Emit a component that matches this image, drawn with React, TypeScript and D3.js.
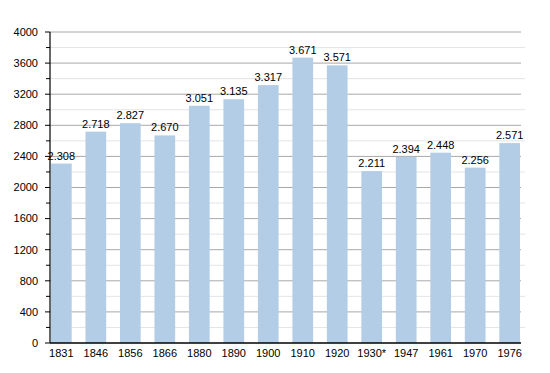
import React from "react";
import * as d3 from "d3";

const categories = ["1831", "1846", "1856", "1866", "1880", "1890", "1900", "1910", "1920", "1930*", "1947", "1961", "1970", "1976"];
const population = [2308, 2718, 2827, 2670, 3051, 3135, 3317, 3671, 3571, 2211, 2394, 2448, 2256, 2571];
const majorTicks = [0, 400, 800, 1200, 1600, 2000, 2400, 2800, 3200, 3600, 4000];
const minorTicks = [200, 600, 1000, 1400, 1800, 2200, 2600, 3000, 3400, 3800];

const W = 550, H = 373;
const left = 50, right = 521, top = 32, bottom = 343;

export default function App() {
  const y = d3.scaleLinear().domain([0, 4000]).range([bottom, top]);
  const x = d3.scaleBand<string>().domain(categories).range([left + 1, right - 1]).paddingInner(0.4).paddingOuter(0);
  const fmt = (v: number) => d3.format(",")(v).replace(/,/g, ".");
  const font = "'Liberation Sans', Arial, sans-serif";
  return (
    <svg width={W} height={H} style={{ position: "absolute", left: 0, top: 0, background: "#fff" }} fontFamily={font}>
      {minorTicks.map((t) => (
        <g key={"m" + t}>
          <line x1={left} x2={right + 4} y1={y(t)} y2={y(t)} stroke="#e4e4e4" strokeWidth={1} />
          <line x1={left - 4} x2={left} y1={y(t)} y2={y(t)} stroke="#000" strokeWidth={1} />
        </g>
      ))}
      {majorTicks.map((t) => (
        <g key={"M" + t}>
          {t > 0 && <line x1={left} x2={right} y1={y(t)} y2={y(t)} stroke="#a8a8a8" strokeWidth={1} />}
          <line x1={left - 5} x2={left} y1={y(t)} y2={y(t)} stroke="#000" strokeWidth={1} />
          <text x={38} y={y(t)} dy="0.35em" textAnchor="end" fontSize={11} fill="#000">{t}</text>
        </g>
      ))}
      {categories.map((c, i) => (
        <g key={c}>
          <rect x={x(c)} y={y(population[i])} width={x.bandwidth()} height={bottom - y(population[i])} fill="#b3cde6" />
          <text x={(x(c) as number) + x.bandwidth() / 2} y={y(population[i]) - 4} textAnchor="middle" fontSize={11} fill="#000">{fmt(population[i])}</text>
          <text x={(x(c) as number) + x.bandwidth() / 2} y={bottom + 14} textAnchor="middle" fontSize={11} fill="#000">{c}</text>
        </g>
      ))}
      <line x1={left} x2={left} y1={top} y2={bottom} stroke="#000" strokeWidth={1.2} />
      <line x1={left} x2={right} y1={bottom} y2={bottom} stroke="#000" strokeWidth={1.5} />
    </svg>
  );
}
